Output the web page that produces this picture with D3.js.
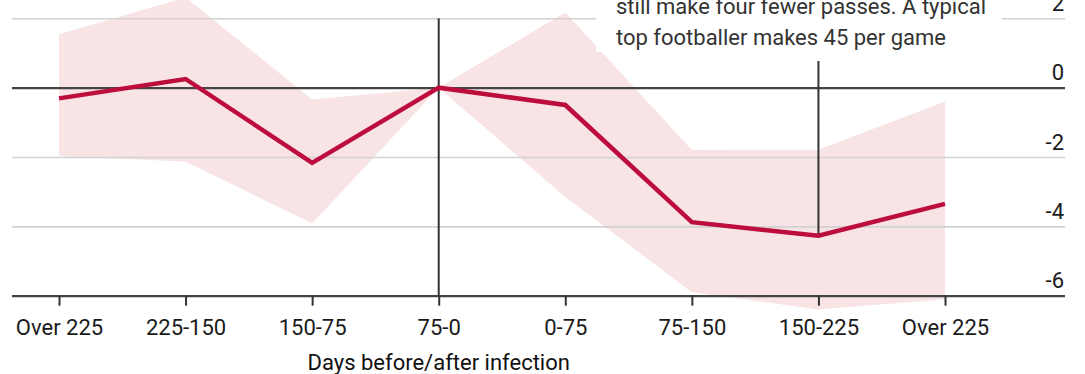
<!DOCTYPE html>
<html>
<head>
<meta charset="utf-8">
<script src="https://cdn.jsdelivr.net/npm/d3@7/dist/d3.min.js"></script>
<style>
  html, body { margin: 0; padding: 0; background: #fff; }
  svg { display: block; font-family: Roboto, "Noto Sans", sans-serif; }
</style>
</head>
<body>
<svg id="chart" width="1085" height="374"></svg>
<script>
// Periods relative to infection, before and after
const dayBands = ["Over 225", "225-150", "150-75", "75-0", "0-75", "75-150", "150-225", "Over 225"];
// Change in passes per game, with confidence range
const passChange = [-0.31, 0.25, -2.17, 0, -0.5, -3.88, -4.27, -3.35];
const upperBound = [1.54, 2.6, -0.34, 0, 2.17, -1.8, -1.79, -0.4];
const lowerBound = [-1.98, -2.13, -3.92, 0, -3.15, -5.9, -6.4, -6.1];
const yTickValues = [2, 0, -2, -4, -6];
const noteLines = ["still make four fewer passes. A typical", "top footballer makes 45 per game"];
const infectionIndex = 3;
const noteIndex = 6;
const axisTitle = "Days before/after infection";

const svg = d3.select("#chart");
const gridLeft = 12, gridRight = 1065;

const x = d3.scalePoint().domain(d3.range(dayBands.length)).range([59, 945]);
const y = d3.scaleLinear().domain([-6, 2]).range([295.7, 18.3]);

// confidence band
const band = d3.area()
  .x((d, i) => x(i))
  .y0((d, i) => y(lowerBound[i]))
  .y1((d, i) => y(upperBound[i]));
svg.append("path")
  .datum(passChange)
  .attr("d", band)
  .attr("fill", "#f8e3e5");

// horizontal gridlines with labels on the right
const yAxis = svg.append("g")
  .attr("transform", `translate(${gridLeft},0)`)
  .call(d3.axisRight(y).tickValues(yTickValues).tickSize(gridRight - gridLeft).tickFormat(d3.format("d")));
yAxis.select(".domain").remove();
yAxis.selectAll(".tick line")
  .attr("stroke", d => d === 0 || d === -6 ? "#444" : "#d2d2d2")
  .attr("stroke-width", d => d === 0 || d === -6 ? 2.2 : 1.6);
yAxis.selectAll(".tick text")
  .attr("x", gridRight - gridLeft - 1)
  .attr("dy", -8)
  .attr("text-anchor", "end")
  .attr("fill", "#1a1a1a")
  .style("font-size", "22px")
  .style("font-family", "Roboto, sans-serif")
  .text(d => String(d).replace("\u2212", "-"));

// x axis ticks and labels
const xAxis = svg.append("g")
  .attr("transform", `translate(0,${y(-6)})`)
  .call(d3.axisBottom(x).tickSize(10).tickFormat(i => dayBands[i]));
xAxis.select(".domain").remove();
xAxis.selectAll(".tick line").attr("stroke", "#333").attr("stroke-width", 2);
xAxis.selectAll(".tick text")
  .attr("y", 39)
  .attr("dy", 0)
  .attr("fill", "#1a1a1a")
  .style("font-size", "22px")
  .style("font-family", "Roboto, sans-serif");

svg.append("text")
  .attr("x", x(infectionIndex))
  .attr("y", 370)
  .attr("text-anchor", "middle")
  .attr("fill", "#111")
  .style("font-size", "22px")
  .text(axisTitle);

// annotation box over the top gridline
svg.append("rect")
  .attr("x", 596).attr("y", 0)
  .attr("width", 406).attr("height", 52)
  .attr("fill", "#fff");
svg.append("g")
  .selectAll("text")
  .data(noteLines)
  .join("text")
  .attr("x", 616)
  .attr("y", (d, i) => 14 + i * 30.5)
  .attr("fill", "#333")
  .style("font-size", "22px")
  .text(d => d);

// infection marker
svg.append("line")
  .attr("x1", x(infectionIndex)).attr("x2", x(infectionIndex))
  .attr("y1", y(2)).attr("y2", y(-6))
  .attr("stroke", "#333").attr("stroke-width", 2);

// pointer from note to the lowest point
svg.append("line")
  .attr("x1", x(noteIndex)).attr("x2", x(noteIndex))
  .attr("y1", 61).attr("y2", y(passChange[noteIndex]))
  .attr("stroke", "#333").attr("stroke-width", 2);

// main line
const line = d3.line().x((d, i) => x(i)).y(d => y(d));
svg.append("path")
  .datum(passChange)
  .attr("d", line)
  .attr("fill", "none")
  .attr("stroke", "#bd0d3d")
  .attr("stroke-width", 4.5)
  .attr("stroke-linejoin", "miter");
</script>
</body>
</html>
